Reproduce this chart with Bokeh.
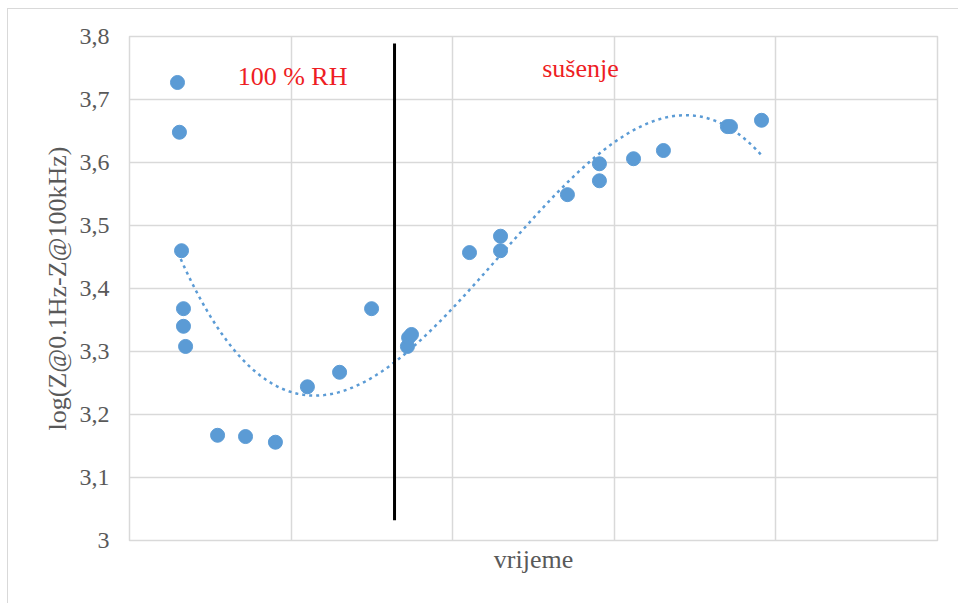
import numpy as np
from bokeh.plotting import figure
from bokeh.models import Range1d, FixedTicker, CustomJSTickFormatter, Label, ColumnDataSource
from bokeh.embed import file_html
from bokeh.resources import INLINE

# ---- data ----
time_x = [0.297, 0.309, 0.322, 0.334, 0.334, 0.347, 0.545, 0.718, 0.903, 1.101,
          1.300, 1.498, 1.720, 1.727, 1.745, 2.104, 2.296, 2.296, 2.710, 2.908,
          2.908, 3.119, 3.304, 3.700, 3.719, 3.911]
log_z = [3.727, 3.648, 3.460, 3.368, 3.340, 3.308, 3.167, 3.165, 3.156, 3.244,
         3.267, 3.368, 3.308, 3.322, 3.327, 3.457, 3.483, 3.460, 3.549, 3.571,
         3.598, 3.606, 3.619, 3.657, 3.657, 3.667]
y_ticks = [3.0, 3.1, 3.2, 3.3, 3.4, 3.5, 3.6, 3.7, 3.8]
x_ticks = [0, 1, 2, 3, 4, 5]
divider_x = [1.64, 1.64]
divider_y = [3.032, 3.789]
phase_labels = ["100 % RH", "sušenje"]

# polynomial trendline (order 3), as the spreadsheet trendline
coef = np.polyfit(time_x, log_z, 3)
trend_x = np.linspace(min(time_x) + 0.02, max(time_x), 200)
trend_y = np.polyval(coef, trend_x)

p = figure(width=951, height=595, output_backend="svg", toolbar_location=None,
           x_range=Range1d(0, 5), y_range=Range1d(3.0, 3.8),
           min_border_left=121, min_border_top=27, min_border_right=22, min_border_bottom=64)
p.background_fill_color = "white"
p.border_fill_color = "white"
p.outline_line_color = "#d9d9d9"
p.outline_line_width = 1.5
p.styles = {"margin-left": "7px", "margin-top": "8px",
            "border-top": "1px solid #d9d9d9", "border-left": "1px solid #d9d9d9"}

grid_col = "#d9d9d9"
p.xgrid.ticker = FixedTicker(ticks=x_ticks)
p.ygrid.ticker = FixedTicker(ticks=y_ticks)
p.xgrid.grid_line_color = grid_col
p.ygrid.grid_line_color = grid_col
p.xgrid.grid_line_width = 1.5
p.ygrid.grid_line_width = 1.5

p.yaxis.ticker = FixedTicker(ticks=y_ticks)
p.yaxis.formatter = CustomJSTickFormatter(code="""
    const s = tick.toFixed(1);
    return s.endsWith('.0') ? s.slice(0, -2) : s.replace('.', ',');
""")
p.yaxis.axis_line_color = None
p.yaxis.major_tick_line_color = None
p.yaxis.minor_tick_line_color = None
p.yaxis.major_tick_out = 0
p.yaxis.minor_tick_out = 0
p.yaxis.major_label_text_font = "Liberation Serif"
p.yaxis.major_label_text_font_size = "24px"
p.yaxis.major_label_text_color = "#595959"
p.yaxis.major_label_standoff = 20
p.yaxis.axis_label = "log(Z@0.1Hz-Z@100kHz)"
p.yaxis.axis_label_text_font = "Liberation Serif"
p.yaxis.axis_label_text_font_size = "26px"
p.yaxis.axis_label_text_font_style = "normal"
p.yaxis.axis_label_text_color = "#595959"
p.yaxis.axis_label_standoff = 5

p.xaxis.ticker = FixedTicker(ticks=x_ticks)
p.xaxis.formatter = CustomJSTickFormatter(code="return '';")
p.xaxis.axis_line_color = None
p.xaxis.major_tick_line_color = None
p.xaxis.minor_tick_line_color = None
p.xaxis.major_tick_out = 0
p.xaxis.minor_tick_out = 0
p.xaxis.major_label_text_font_size = "1px"
p.xaxis.major_label_standoff = 0
p.xaxis.axis_label = "vrijeme"
p.xaxis.axis_label_text_font = "Liberation Serif"
p.xaxis.axis_label_text_font_size = "26px"
p.xaxis.axis_label_text_font_style = "normal"
p.xaxis.axis_label_text_color = "#595959"
p.xaxis.axis_label_standoff = 4

# trendline
p.line(trend_x, trend_y, line_color="#5b9bd5", line_width=2.5, line_dash="3 4")

# divider
p.line(divider_x, divider_y, line_color="black", line_width=3)

# points
src = ColumnDataSource(dict(x=time_x, y=log_z))
p.scatter("x", "y", source=src, size=14, fill_color="#5b9bd5", line_color="#5b9bd5")

red = "#ee1d23"
p.add_layout(Label(x=1.009, y=3.736, text=phase_labels[0], text_align="center",
                   text_baseline="alphabetic", text_font="Liberation Serif",
                   text_font_size="26px", text_color=red))
p.add_layout(Label(x=2.791, y=3.749, text=phase_labels[1], text_align="center",
                   text_baseline="alphabetic", text_font="Liberation Serif",
                   text_font_size="26px", text_color=red))

open("out.html", "w").write(file_html(p, INLINE))
